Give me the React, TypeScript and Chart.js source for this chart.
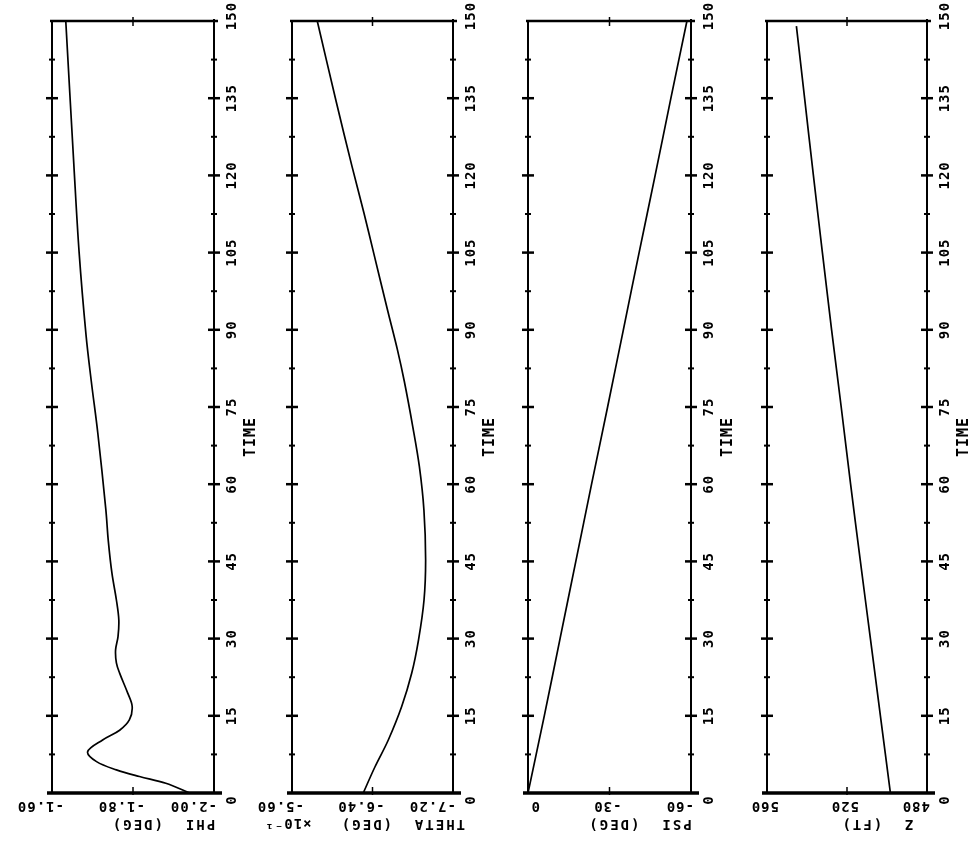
import { useEffect, useRef } from "react";
import { Chart, registerables } from "chart.js";

Chart.register(...registerables);

// ---- time axis (vertical, shared) ----
const TIME_MIN = 0;
const TIME_MAX = 150;
const TIME_TICKS = [0, 7.5, 15, 22.5, 30, 37.5, 45, 52.5, 60, 67.5, 75, 82.5, 90, 97.5, 105, 112.5, 120, 127.5, 135, 142.5, 150];
const TIME_LABELS = ["0", "15", "30", "45", "60", "75", "90", "105", "120", "135", "150"];
const TIME_TITLE = "TIME";

// ---- PHI ----
const PHI_TIME = [0, 1.9, 3.2, 4.5, 6.1, 8, 10.3, 12.2, 14.2, 16.8, 19.4, 23.3, 25.3, 27.8, 30.4, 33.6, 37.5, 42.7, 49, 55, 70, 80, 89, 105, 122, 150];
const PHI_VALUES = [-1.94, -1.881, -1.816, -1.759, -1.71, -1.688, -1.725, -1.767, -1.791, -1.798, -1.787, -1.767, -1.759, -1.757, -1.763, -1.765, -1.759, -1.748, -1.739, -1.733, -1.713, -1.697, -1.684, -1.667, -1.654, -1.634];
const PHI_TICKS = [-2.0, -1.8, -1.6];
const PHI_TICK_LABELS = ["-2.00", "-1.80", "-1.60"];
const PHI_TITLE = "PHI (DEG)";

// ---- THETA (x10^-1) ----
const THETA_TIME = [0, 5.1, 10.3, 16.8, 23.3, 29.7, 37.5, 45.3, 55, 63.4, 71.2, 80, 86.1, 93.8, 104.9, 112.7, 121.7, 134.6, 150];
const THETA_VALUES = [-6.308, -6.425, -6.557, -6.69, -6.79, -6.857, -6.912, -6.928, -6.911, -6.866, -6.8, -6.716, -6.648, -6.55, -6.412, -6.315, -6.197, -6.036, -5.851];
const THETA_TICKS = [-7.2, -6.4, -5.6];
const THETA_TICK_LABELS = ["-7.20", "-6.40", "-5.60"];
const THETA_TITLE = "THETA (DEG)";
const THETA_SCALE_NOTE = "×10⁻¹";

// ---- PSI ----
const PSI_TIME = [0, 15, 30, 45, 60, 75, 90, 105, 120, 135, 150];
const PSI_VALUES = [0, -6, -11.8, -17.6, -23.4, -29.3, -35.1, -40.9, -46.8, -52.6, -58.5];
const PSI_TICKS = [-60, -30, 0];
const PSI_TICK_LABELS = ["-60", "-30", "0"];
const PSI_TITLE = "PSI (DEG)";

// ---- Z ----
const Z_TIME = [0, 15, 30, 45, 60, 75, 90, 105, 120, 135, 149];
const Z_VALUES = [498.3, 503.3, 508.3, 513.3, 518.2, 522.9, 527.7, 532.3, 536.8, 541.2, 545.3];
const Z_TICKS = [480, 520, 560];
const Z_TICK_LABELS = ["480", "520", "560"];
const Z_TITLE = "Z (FT)";

type Panel = {
  plotLeft: number;
  plotRight: number;
  times: number[];
  values: number[];
  ticks: number[];
  tickLabels: string[];
  title: string;
  note?: string;
};

const PANELS: Panel[] = [
  { plotLeft: 52, plotRight: 214, times: PHI_TIME, values: PHI_VALUES, ticks: PHI_TICKS, tickLabels: PHI_TICK_LABELS, title: PHI_TITLE },
  { plotLeft: 292, plotRight: 453, times: THETA_TIME, values: THETA_VALUES, ticks: THETA_TICKS, tickLabels: THETA_TICK_LABELS, title: THETA_TITLE, note: THETA_SCALE_NOTE },
  { plotLeft: 528, plotRight: 691, times: PSI_TIME, values: PSI_VALUES, ticks: PSI_TICKS, tickLabels: PSI_TICK_LABELS, title: PSI_TITLE },
  { plotLeft: 767, plotRight: 927, times: Z_TIME, values: Z_VALUES, ticks: Z_TICKS, tickLabels: Z_TICK_LABELS, title: Z_TITLE },
];

const PAGE_H = 842;
const PLOT_TOP = 21;
const PLOT_BOTTOM = 793;
const PAD_LEFT = 50;
const PAD_RIGHT = 62;
const FONT = '"DejaVu Sans Mono", monospace';

function line(ctx: CanvasRenderingContext2D, x1: number, y1: number, x2: number, y2: number) {
  ctx.beginPath();
  ctx.moveTo(x1, y1);
  ctx.lineTo(x2, y2);
  ctx.stroke();
}

function makeFramePlugin(panel: Panel) {
  return {
    id: "frame",
    afterDraw(chart: any) {
      const ctx: CanvasRenderingContext2D = chart.ctx;
      const { left, right, top, bottom } = chart.chartArea;
      const xs = chart.scales.x;
      const ys = chart.scales.y;
      ctx.save();
      ctx.strokeStyle = "#000";
      ctx.fillStyle = "#000";
      ctx.lineCap = "butt";

      // frame lines
      ctx.lineWidth = 2;
      line(ctx, left, top, left, bottom);
      line(ctx, right, top - 2, right, bottom);
      ctx.lineWidth = 2.5;
      line(ctx, left - 2, top, right + 4, top);
      ctx.lineWidth = 3.5;
      line(ctx, left - 5, bottom, right + 8, bottom);

      // time ticks on both vertical lines
      for (const t of TIME_TICKS) {
        if (t === TIME_MIN || t === TIME_MAX) continue;
        const py = ys.getPixelForValue(t);
        const major = t % 15 === 0;
        const len = major ? 6 : 3;
        ctx.lineWidth = major ? 2.5 : 2;
        line(ctx, left - len, py, left + len, py);
        line(ctx, right - len, py, right + len, py);
      }

      // value ticks on bottom and top lines (inner ones)
      const minTick = Math.min(...panel.ticks);
      const maxTick = Math.max(...panel.ticks);
      ctx.lineWidth = 1.5;
      for (const v of panel.ticks) {
        if (v === minTick || v === maxTick) continue;
        const px = xs.getPixelForValue(v);
        line(ctx, px, bottom - 6, px, bottom + 2);
        line(ctx, px, top - 4, px, top + 5);
      }

      // value tick labels, rotated 180 degrees
      ctx.font = `bold 14px ${FONT}`;
      (ctx as any).letterSpacing = "1px";
      ctx.textBaseline = "middle";
      panel.ticks.forEach((v, i) => {
        const px = xs.getPixelForValue(v);
        const off = v === minTick ? 3 : 12;
        ctx.save();
        ctx.translate(px + off, 806);
        ctx.rotate(Math.PI);
        ctx.textAlign = "left";
        ctx.fillText(panel.tickLabels[i], 0, 0);
        ctx.restore();
      });

      // axis title, rotated 180 degrees
      const cx = (left + right) / 2 + 30;
      ctx.save();
      ctx.translate(cx, 824);
      ctx.rotate(Math.PI);
      ctx.textAlign = "center";
      ctx.font = `bold 14px ${FONT}`;
      (ctx as any).letterSpacing = "2px";
      ctx.fillText(panel.title.replace(" ", "  "), 0, 0);
      ctx.restore();
      if (panel.note) {
        ctx.save();
        ctx.translate(left - 4, 823);
        ctx.rotate(Math.PI);
        ctx.textAlign = "center";
        ctx.font = `bold 14px ${FONT}`;
        (ctx as any).letterSpacing = "1px";
        ctx.fillText(panel.note, 0, 0);
        ctx.restore();
      }

      // time tick labels, rotated -90 degrees
      ctx.font = `bold 14px ${FONT}`;
      (ctx as any).letterSpacing = "1px";
      TIME_LABELS.forEach((lab) => {
        const t = Number(lab);
        let py = ys.getPixelForValue(t);
        if (t === TIME_MIN) py += 7;
        if (t === TIME_MAX) py -= 5;
        ctx.save();
        ctx.translate(right + 18, py);
        ctx.rotate(-Math.PI / 2);
        ctx.textAlign = "center";
        ctx.textBaseline = "middle";
        ctx.fillText(lab, 0, 0);
        ctx.restore();
      });

      // TIME title
      ctx.save();
      ctx.translate(right + 37, ys.getPixelForValue(75) + 30);
      ctx.rotate(-Math.PI / 2);
      ctx.textAlign = "center";
      ctx.textBaseline = "middle";
      ctx.font = `bold 15px ${FONT}`;
      (ctx as any).letterSpacing = "1px";
      ctx.fillText(TIME_TITLE, 0, 0);
      ctx.restore();

      ctx.restore();
    },
  };
}

function PanelChart({ panel }: { panel: Panel }) {
  const ref = useRef<HTMLCanvasElement | null>(null);
  const plotW = panel.plotRight - panel.plotLeft;
  const width = PAD_LEFT + plotW + PAD_RIGHT;

  useEffect(() => {
    if (!ref.current) return;
    const ticks = panel.ticks;
    const chart = new Chart(ref.current, {
      type: "scatter",
      data: {
        datasets: [
          {
            data: panel.times.map((t, i) => ({ x: panel.values[i], y: t })),
            showLine: true,
            borderColor: "#000",
            borderWidth: 1.7,
            pointRadius: 0,
            tension: 0.35,
            fill: false,
          },
        ],
      },
      options: {
        responsive: false,
        maintainAspectRatio: false,
        animation: false,
        events: [],
        layout: {
          padding: { left: PAD_LEFT, right: PAD_RIGHT, top: PLOT_TOP, bottom: PAGE_H - PLOT_BOTTOM },
        },
        plugins: { legend: { display: false }, tooltip: { enabled: false } },
        scales: {
          x: { type: "linear", reverse: true, min: Math.min(...ticks), max: Math.max(...ticks), display: false },
          y: { type: "linear", min: TIME_MIN, max: TIME_MAX, display: false },
        },
      },
      plugins: [makeFramePlugin(panel)],
    } as any);
    return () => chart.destroy();
  }, [panel]);

  return (
    <canvas
      ref={ref}
      width={width}
      height={PAGE_H}
      style={{ position: "absolute", left: panel.plotLeft - PAD_LEFT, top: 0, width, height: PAGE_H }}
    />
  );
}

export default function App() {
  return (
    <div
      style={{
        position: "absolute",
        left: 0,
        top: 0,
        width: 968,
        height: PAGE_H,
        overflow: "hidden",
        background: "#fff",
      }}
    >
      {PANELS.map((p, i) => (
        <PanelChart key={i} panel={p} />
      ))}
    </div>
  );
}
